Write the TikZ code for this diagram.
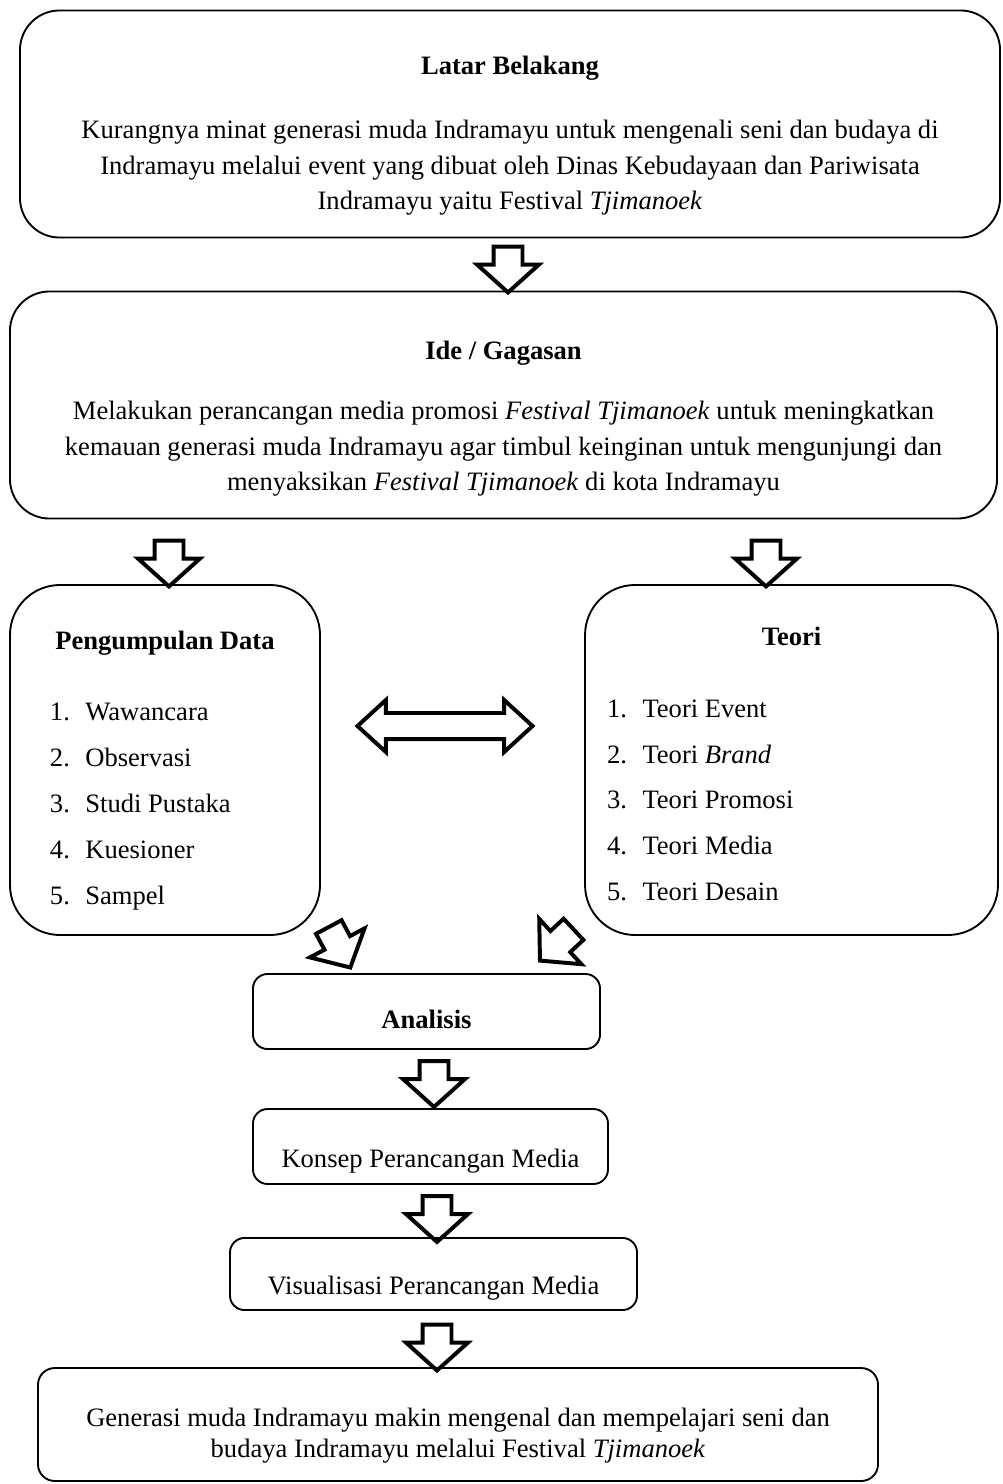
\documentclass[tikz,border=0pt]{standalone}
\usepackage{fontspec}
\setmainfont{Liberation Serif}
\usetikzlibrary{shapes.arrows}
\newcommand\itemno[1]{\makebox[17pt][l]{#1}}
\newcommand\lift[1]{\rule{0pt}{#1}}
\tikzset{
  box/.style       = {rectangle, draw=black, line width=0.9pt, inner sep=0pt,
                      align=center, font=\fontsize{12.75}{17}\selectfont},
  bigbox/.style    = {box, rounded corners=19pt, minimum height=109pt},
  listbox/.style   = {box, rounded corners=24pt, align=flush left,
                      minimum height=168pt},
  stepbox/.style   = {box, rounded corners=7pt, minimum height=36pt,
                      text depth=0pt},
  blockarrow/.style= {single arrow, draw=black, line width=1.9pt,
                      minimum height=22pt, inner xsep=0pt, inner ysep=6pt,
                      single arrow head extend=7.9pt,
                      single arrow tip angle=96},
  twoway/.style    = {double arrow, draw=black, line width=1.9pt,
                      minimum height=84pt, inner xsep=0pt, inner ysep=5.3pt,
                      double arrow head extend=6.2pt,
                      double arrow tip angle=85},
}
\begin{document}
\begin{tikzpicture}[x=0.48pt, y=-0.48pt]
    \useasboundingbox (0,0) rectangle (1002,1484);

    % ── Top: background and idea ──────────────────────────────────
    \node[bigbox, minimum width=470.4pt] (latar) at (510,124)
      {\lift{20pt}\textbf{Latar Belakang}\\[14pt]
       Kurangnya minat generasi muda Indramayu untuk mengenali seni dan budaya di\\
       Indramayu melalui event yang dibuat oleh Dinas Kebudayaan dan Pariwisata\\
       Indramayu yaitu Festival \textit{Tjimanoek}};

    \node[bigbox, minimum width=473.8pt] (ide) at (503.5,405)
      {\lift{22pt}\textbf{Ide / Gagasan}\\[12pt]
       Melakukan perancangan media promosi \textit{Festival Tjimanoek} untuk meningkatkan\\
       kemauan generasi muda Indramayu agar timbul keinginan untuk mengunjungi dan\\
       menyaksikan \textit{Festival Tjimanoek} di kota Indramayu};

    % ── Middle: data and theory ───────────────────────────────────
    \node[listbox, minimum width=148.8pt, text width=110.4pt] (data) at (165,760)
      {\lift{19pt}\makebox[\linewidth]{\textbf{Pengumpulan Data}}\\[17pt]
       \itemno{1.}Wawancara\\[5pt]
       \itemno{2.}Observasi\\[5pt]
       \itemno{3.}Studi Pustaka\\[5pt]
       \itemno{4.}Kuesioner\\[5pt]
       \itemno{5.}Sampel};

    \node[listbox, minimum width=198.2pt, text width=177pt] (teori) at (791.5,760)
      {\lift{12.5pt}\makebox[\linewidth]{\textbf{Teori}}\\[17.6pt]
       \itemno{1.}Teori Event\\[5pt]
       \itemno{2.}Teori \textit{Brand}\\[5pt]
       \itemno{3.}Teori Promosi\\[5pt]
       \itemno{4.}Teori Media\\[5pt]
       \itemno{5.}Teori Desain};

    % ── Bottom: steps and result ──────────────────────────────────
    \node[stepbox, minimum width=166.6pt, text height=16.5pt] (analisis)
      at (426.5,1011.5) {\textbf{Analisis}};

    \node[stepbox, minimum width=170.4pt, text height=20.6pt] (konsep)
      at (430.5,1146.5) {Konsep Perancangan Media};

    \node[stepbox, minimum width=195.4pt, minimum height=34.6pt,
          text height=20pt] (visual)
      at (433.5,1274) {Visualisasi Perancangan Media};

    \node[box, rounded corners=8pt, minimum width=403.2pt, minimum height=54.2pt,
          font=\fontsize{12.75}{15}\selectfont] (hasil) at (458,1424.5)
      {\lift{19.5pt}Generasi muda Indramayu makin mengenal dan mempelajari seni dan\\
       budaya Indramayu melalui Festival \textit{Tjimanoek}};

    % ── Block arrows ──────────────────────────────────────────────
    \node[blockarrow, rotate=-90] (toIde)      at (508,263) {};
    \node[blockarrow, rotate=-90] (toData)     at (169,557) {};
    \node[blockarrow, rotate=-90] (toTeori)    at (766,557) {};
    \node[twoway] (dataTeori)                  at (445,726) {};
    \node[blockarrow, rotate=-62] (dataAnalisis)  at (336.5,941.5) {};
    \node[blockarrow, rotate=-137] (teoriAnalisis) at (561.5,940.5) {};
    \node[blockarrow, rotate=-90] (toKonsep)   at (434,1077.5) {};
    \node[blockarrow, rotate=-90] (toVisual)   at (437,1212.5) {};
    \node[blockarrow, rotate=-90] (toHasil)    at (437,1341) {};

\end{tikzpicture}
\end{document}
